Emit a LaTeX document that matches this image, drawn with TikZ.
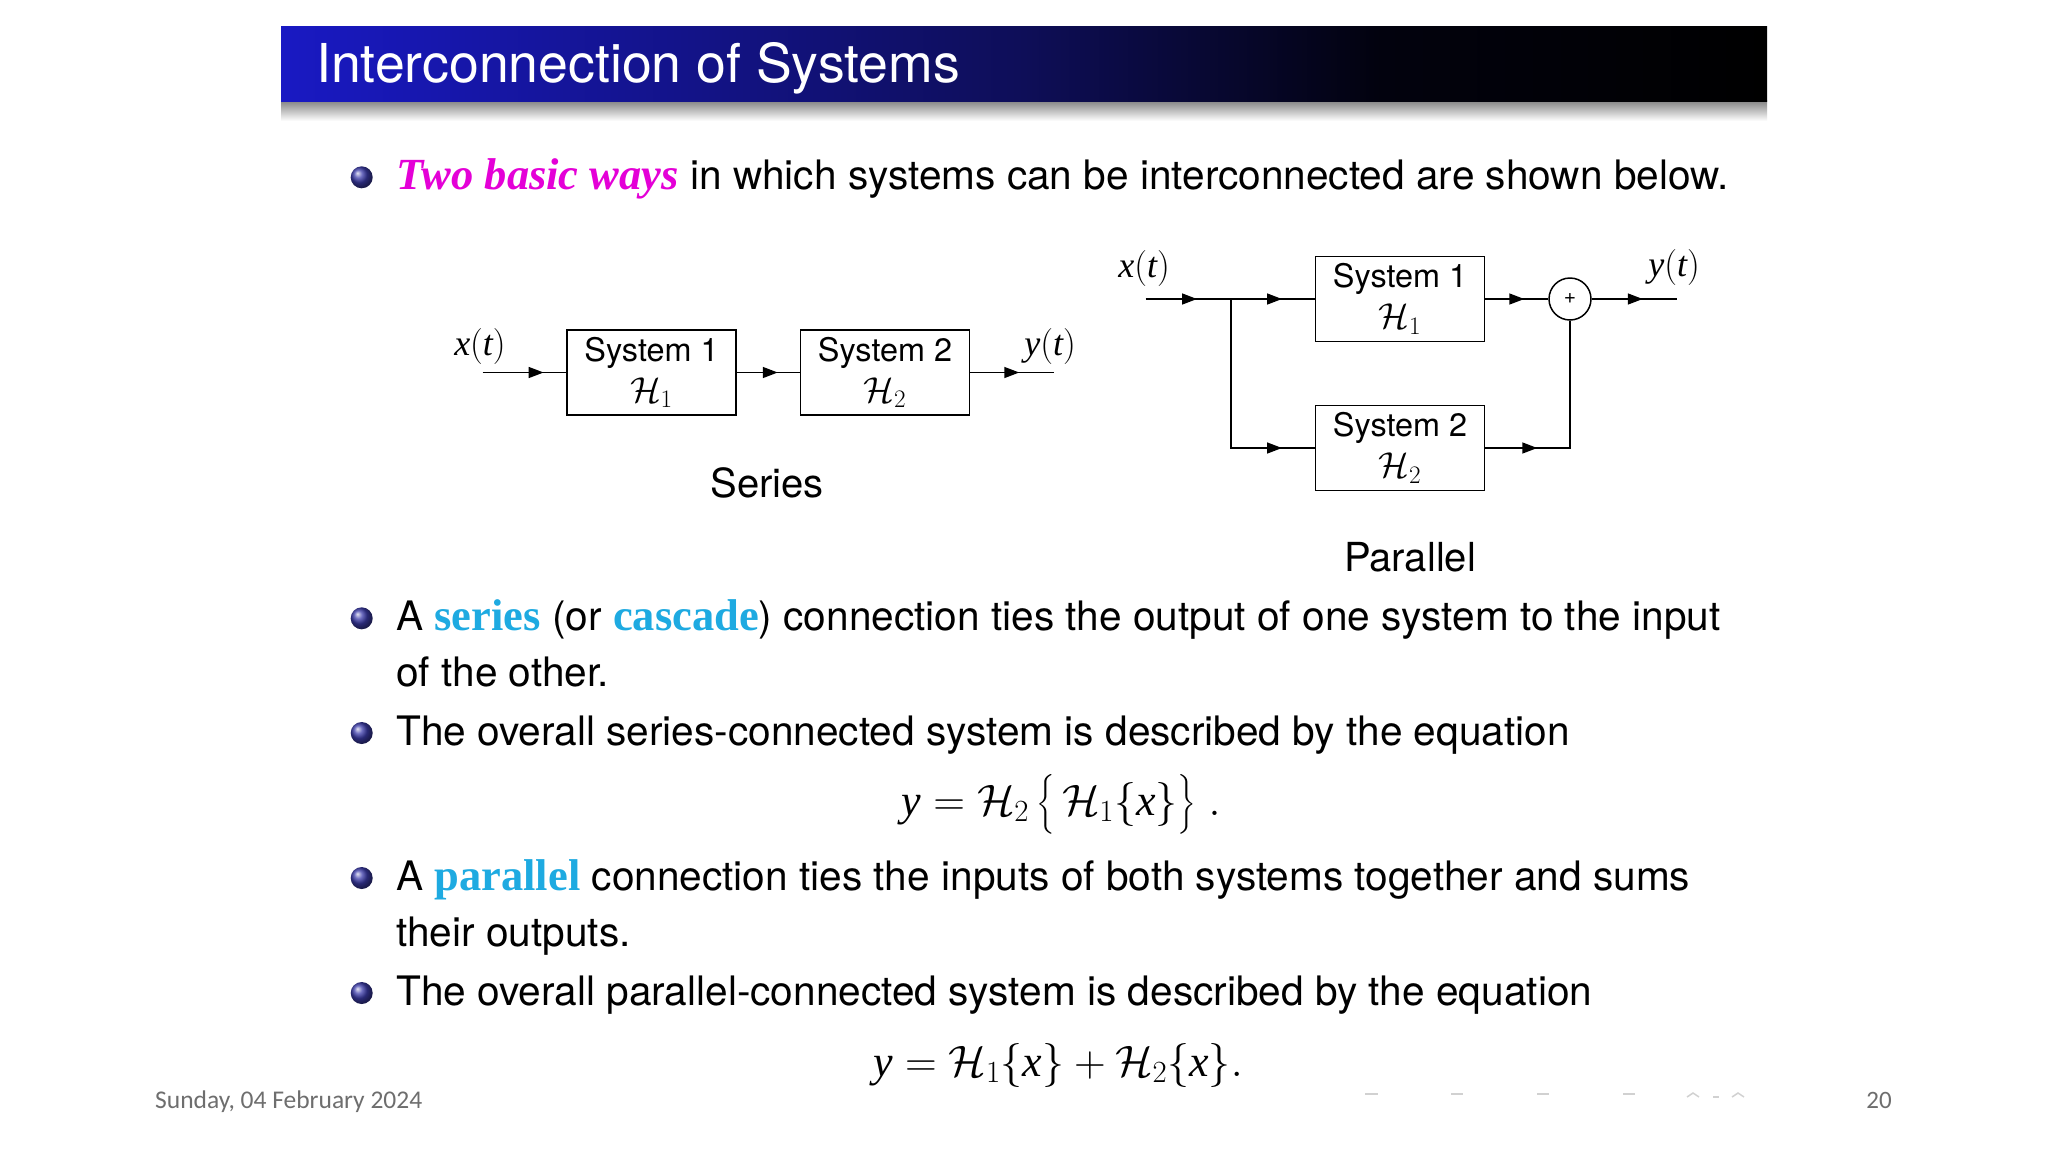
\RequirePackage{fix-cm}
\documentclass[tikz,border=0pt]{standalone}
\usepackage{amsmath}
\usepackage{fontspec}
\setmainfont{Liberation Serif}
\setsansfont{TeX Gyre Heros}
\newfontfamily\footfont{Carlito}
\usetikzlibrary{arrows.meta,decorations.markings,shadings}

\definecolor{tbA}{RGB}{25,25,195}
\definecolor{tbB}{RGB}{14,14,88}
\definecolor{tbC}{RGB}{2,2,14}
\definecolor{hlmag}{RGB}{228,0,215}
\definecolor{hlcyan}{RGB}{30,170,225}
\definecolor{ballc}{RGB}{60,60,170}
\definecolor{footgray}{RGB}{110,110,110}
\pgfdeclarehorizontalshading{titlebarshade}{100bp}{color(0bp)=(tbA); color(25bp)=(tbA); color(50bp)=(tbB); color(62bp)=(tbC); color(75bp)=(black); color(100bp)=(black)}

\newcommand{\tv}[1]{\mbox{\rmfamily\itshape #1}}
\newcommand{\hlm}[1]{{\rmfamily\bfseries\itshape\fontsize{44.5}{57}\selectfont\color{hlmag}#1}}
\newcommand{\hlc}[1]{{\rmfamily\bfseries\fontsize{44.5}{57}\selectfont\color{hlcyan}#1}}
\newcommand{\boxmath}[1]{{\fontsize{36}{41}\selectfont$#1$}}

\tikzset{
  body/.style={anchor=base west, inner sep=0pt, font=\sffamily\fontsize{40.6}{57}\selectfont},
  bulletball/.style={circle, inner sep=0pt, minimum size=22pt, shading=ball, ball color=ballc},
  sysbox/.style={draw, line width=1.5pt, minimum width=169pt, minimum height=85pt, inner sep=0pt, align=center, font=\sffamily\fontsize{32.4}{41}\selectfont},
  sumnode/.style={draw, circle, line width=1.5pt, minimum size=42pt, inner sep=0pt, font=\sffamily\fontsize{21}{21}\selectfont},
  siglab/.style={inner sep=0pt, font=\rmfamily\fontsize{36}{42}\selectfont},
  caplab/.style={inner sep=0pt, font=\sffamily\fontsize{40}{48}\selectfont},
  wire/.style={line width=1.5pt},
  midarr/.style={postaction={decorate}, decoration={markings, mark=at position #1 with {\arrow{Triangle[length=15pt,width=11pt]}}}},
  eqn/.style={inner sep=0pt, anchor=base, font=\rmfamily\fontsize{44}{52}\selectfont},
}

\begin{document}
\begin{tikzpicture}[x=1pt, y=-1pt]
\useasboundingbox (0,0) rectangle (2048,1152);
\fill[white] (0,0) rectangle (2048,1152);

% title bar
\shade[top color=black!50, bottom color=white] (281,100) rectangle (1767,121);
\shade[shading=titlebarshade] (281,26) rectangle (1767,101);
\node[anchor=base west, inner sep=0pt, text=white, font=\sffamily\fontsize{53.6}{60}\selectfont] (title) at (316,82) {Interconnection of Systems};

% bullets and text
\node[bulletball] (ball1) at (361.7,177.3) {};
\node[body] (l1) at (396,189.3) {\hlm{Two basic ways} in which systems can be interconnected are shown below.};

\node[bulletball] (ball2) at (361.7,618.3) {};
\node[body] (l2a) at (396,630) {A \hlc{series} (or \hlc{cascade}) connection ties the output of one system to the input};
\node[body] (l2b) at (396,686.7) {of the other.};

\node[bulletball] (ball3) at (361.7,733) {};
\node[body] (l3) at (396,745) {The overall series-connected system is described by the equation};

\node[eqn] (eq1) at (1061,815) {$\tv{y} = \mathcal{H}_2\,\bigl\{\,\mathcal{H}_1\{\tv{x}\}\bigr\}\;.$};

\node[bulletball] (ball4) at (361.7,878) {};
\node[body] (l4a) at (396,890) {A \hlc{parallel} connection ties the inputs of both systems together and sums};
\node[body] (l4b) at (396,946.7) {their outputs.};

\node[bulletball] (ball5) at (361.7,993) {};
\node[body] (l5) at (396,1005) {The overall parallel-connected system is described by the equation};

\node[eqn] (eq2) at (1058,1076) {$\tv{y} = \mathcal{H}_1\{\tv{x}\} + \mathcal{H}_2\{\tv{x}\}.$};

% series diagram
\coordinate (sin) at (482.6,372.5);
\node[sysbox] (s1) at (651.5,372.5) {System 1\\\boxmath{\mathcal{H}_1}};
\node[sysbox] (s2) at (885,372.5) {System 2\\\boxmath{\mathcal{H}_2}};
\coordinate (sout) at (1054,372.5);
\draw[wire, midarr=61pt] (sin) -- (s1);
\draw[wire, midarr=41pt] (s1) -- (s2);
\draw[wire, midarr=49pt] (s2) -- (sout);
\node[siglab] (sx) at (480,346) {$\tv{x}(\tv{t})$};
\node[siglab] (sy) at (1050,346) {$\tv{y}(\tv{t})$};
\node[caplab] (serlab) at (767,483) {Series};

% parallel diagram
\coordinate (pin) at (1145.5,299);
\coordinate (pbr) at (1231,299);
\node[sysbox] (p1) at (1400,299) {System 1\\\boxmath{\mathcal{H}_1}};
\node[sysbox] (p2) at (1400,448) {System 2\\\boxmath{\mathcal{H}_2}};
\node[sumnode] (sum) at (1570,299) {+};
\coordinate (pout) at (1677,299);
\draw[wire, midarr=51.5pt] (pin) -- (pbr);
\draw[wire, midarr=51pt] (pbr) -- (p1);
\draw[wire, midarr=200pt] (pbr) |- (p2);
\draw[wire, midarr=39pt] (p1) -- (sum);
\draw[wire, midarr=51pt] (sum) -- (pout);
\draw[wire, midarr=52pt] (p2) -| (sum);
\node[siglab] (px) at (1144,268) {$\tv{x}(\tv{t})$};
\node[siglab] (py) at (1674,267) {$\tv{y}(\tv{t})$};
\node[caplab] (parlab) at (1410,557) {Parallel};

% footer
\node[anchor=base west, inner sep=0pt, text=footgray, font=\footfont\fontsize{25.5}{28}\selectfont] (date) at (155,1108) {Sunday, 04 February 2024};
\node[anchor=base east, inner sep=0pt, text=footgray, font=\footfont\fontsize{25}{28}\selectfont] (page) at (1892,1108) {20};
\begin{scope}[draw=black!18, line width=1.5pt]
\draw (1365,1094) -- (1378,1094);
\draw (1451,1094) -- (1463,1094);
\draw (1537,1094) -- (1549,1094);
\draw (1623,1094) -- (1635,1094);
\draw (1687,1097) -- (1693,1093) -- (1699,1097);
\draw (1713,1097) -- (1719,1097);
\draw (1732,1097) -- (1738,1093) -- (1744,1097);
\end{scope}
\end{tikzpicture}
\end{document}
